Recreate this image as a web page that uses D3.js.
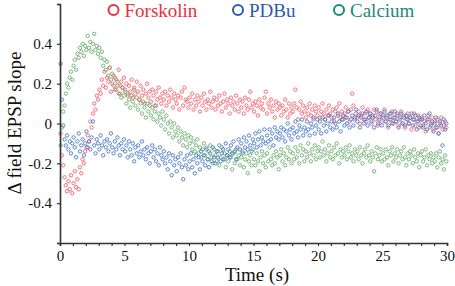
<!DOCTYPE html>
<html><head><meta charset="utf-8">
<script src="https://cdn.jsdelivr.net/npm/d3@7"></script>
</head>
<body style="margin:0;background:#fff">
<svg id="chart" width="455" height="286" font-family="Liberation Serif"></svg>
<script>
// ---- data ----
const seriesNames = ["Forskolin", "PDBu", "Calcium"];
const sampleStart = 0.05, sampleStep = 0.1; // s, acquisition clock
const xTicks = [0, 5, 10, 15, 20, 25, 30];
const yTicks = [-0.6, -0.4, -0.2, 0, 0.2, 0.4, 0.6];
const yTickLabels = ["", "-0.4", "-0.2", "0", "0.2", "0.4", ""];

const forskolin = [
-0.05,-0.16,-0.21,-0.27,-0.31,-0.34,-0.29,-0.33,-0.26,-0.35,
-0.30,-0.24,-0.32,-0.28,-0.33,-0.22,-0.25,-0.18,-0.20,-0.14,
-0.12,-0.06,-0.09,0.01,-0.02,0.05,0.10,0.07,0.14,0.12,
0.17,0.15,0.22,0.19,0.26,0.18,0.23,0.21,0.28,0.16,
0.20,0.24,0.17,0.22,0.19,0.27,0.15,0.21,0.18,0.23,
0.17,0.20,0.14,0.19,0.16,0.22,0.13,0.18,0.15,0.21,
0.16,0.12,0.19,0.14,0.17,0.10,0.15,0.20,0.13,0.16,
0.11,0.17,0.14,0.09,0.16,0.12,0.18,0.13,0.10,0.15,
0.12,0.16,0.09,0.14,0.11,0.17,0.13,0.08,0.15,0.12,
0.10,0.14,0.07,0.13,0.16,0.09,0.18,0.12,0.11,0.08,
0.13,0.10,0.15,0.07,0.12,0.09,0.14,0.11,0.06,0.13,
0.09,0.15,0.11,0.07,0.12,0.10,0.16,0.08,0.11,0.13,
0.07,0.12,0.09,0.14,0.10,0.06,0.11,0.15,0.08,0.12,
0.10,0.05,0.13,0.09,0.11,0.07,0.14,0.10,0.06,0.12,
0.08,0.11,0.05,0.13,0.09,0.07,0.12,0.16,0.08,0.10,
0.06,0.11,0.09,0.04,0.12,0.08,0.10,0.07,0.13,0.16,
0.05,0.10,0.08,0.12,0.06,0.09,0.03,0.11,0.07,0.10,
0.08,0.04,0.09,0.06,0.12,0.07,0.03,0.10,0.05,0.08,
0.06,0.10,0.17,0.08,0.02,0.07,0.11,0.05,0.09,0.06,
0.03,0.08,0.05,0.10,0.04,0.07,0.02,0.09,0.06,0.04,
0.08,0.03,0.06,0.10,0.05,0.02,0.07,0.04,0.09,0.05,
0.03,0.07,0.01,0.06,0.08,0.04,0.10,0.03,0.06,0.02,
0.05,0.08,0.03,0.06,0.01,0.07,0.15,0.09,0.02,0.05,
0.03,0.06,0.00,0.04,0.08,0.02,0.05,0.01,0.07,0.03,
0.05,0.00,0.04,0.07,0.02,0.06,-0.01,0.03,0.05,0.01,
0.04,0.07,0.01,0.03,-0.02,0.05,0.02,0.06,0.00,0.03,
0.01,0.05,-0.01,0.03,0.06,0.00,0.04,-0.02,0.02,0.05,
0.00,0.03,-0.03,0.02,0.05,-0.01,0.01,0.04,-0.02,0.02,
0.03,-0.01,0.01,-0.04,0.02,0.04,-0.02,0.00,0.03,-0.03,
0.01,-0.02,0.02,-0.05,0.00,0.03,-0.03,-0.01,0.01,-0.02
];

const pdbu = [
0.30,0.12,-0.01,-0.08,-0.11,-0.06,-0.13,-0.09,-0.15,-0.10,
-0.07,-0.12,-0.17,-0.09,-0.05,-0.14,-0.11,-0.08,-0.16,-0.10,
-0.04,-0.12,-0.09,-0.13,-0.07,0.01,-0.11,-0.15,-0.08,-0.10,
-0.13,-0.06,-0.11,-0.16,-0.09,-0.12,-0.08,-0.14,-0.10,-0.05,
-0.12,-0.15,-0.09,-0.13,-0.07,-0.11,-0.16,-0.10,-0.13,-0.08,
-0.14,-0.11,-0.17,-0.09,-0.13,-0.16,-0.10,-0.19,-0.12,-0.15,
-0.11,-0.17,-0.14,-0.09,-0.16,-0.13,-0.18,-0.12,-0.15,-0.20,
-0.14,-0.11,-0.17,-0.13,-0.19,-0.15,-0.21,-0.12,-0.16,-0.18,
-0.14,-0.20,-0.17,-0.23,-0.15,-0.19,-0.26,-0.16,-0.21,-0.18,
-0.24,-0.17,-0.20,-0.15,-0.22,-0.28,-0.18,-0.21,-0.16,-0.23,
-0.19,-0.15,-0.22,-0.18,-0.25,-0.16,-0.20,-0.17,-0.23,-0.14,
-0.19,-0.16,-0.21,-0.13,-0.18,-0.22,-0.15,-0.19,-0.12,-0.17,
-0.20,-0.14,-0.17,-0.11,-0.19,-0.15,-0.13,-0.18,-0.10,-0.16,
-0.13,-0.17,-0.11,-0.15,-0.09,-0.14,-0.18,-0.12,-0.08,-0.13,
-0.10,-0.15,-0.07,-0.12,-0.09,-0.13,-0.06,-0.11,-0.14,-0.08,
-0.10,-0.05,-0.12,-0.08,-0.04,-0.11,-0.07,-0.09,-0.03,-0.10,
-0.06,-0.09,-0.03,-0.08,-0.05,-0.11,-0.02,-0.07,-0.04,-0.08,
-0.05,-0.02,-0.07,-0.03,-0.09,-0.04,0.00,-0.06,-0.03,-0.08,
-0.02,-0.05,0.01,-0.04,-0.07,-0.01,-0.03,0.02,-0.06,-0.02,
-0.04,0.01,-0.03,-0.06,0.00,-0.02,0.03,-0.05,-0.01,0.02,
-0.03,0.01,-0.05,0.03,-0.01,0.02,-0.04,0.00,0.04,-0.02,
0.01,-0.03,0.03,0.00,-0.02,0.05,0.01,-0.04,0.02,0.04,
-0.01,0.03,0.00,0.06,-0.02,0.02,0.04,-0.01,0.03,0.07,
0.01,0.04,-0.02,0.03,0.05,0.00,0.02,0.06,-0.01,0.03,
0.05,0.01,0.03,-0.02,0.04,0.07,0.00,0.02,0.05,-0.01,
0.03,0.06,0.01,0.04,-0.01,0.02,0.05,0.00,0.03,0.06,
0.01,0.04,-0.02,0.02,0.05,0.00,0.03,-0.01,0.04,0.02,
0.00,0.03,0.05,-0.01,0.02,0.04,-0.03,0.01,0.03,-0.01,
0.02,-0.02,0.04,0.00,-0.03,0.02,0.05,-0.01,0.01,-0.04,
0.00,0.03,-0.02,-0.05,0.01,-0.01,-0.11,0.02,-0.03,0.00
];

const calcium = [
-0.11,-0.02,0.06,0.09,0.15,0.20,0.18,0.23,0.26,0.22,
0.29,0.32,0.27,0.35,0.33,0.38,0.36,0.40,0.34,0.39,
0.37,0.44,0.38,0.41,0.36,0.40,0.45,0.37,0.39,0.35,
0.38,0.33,0.36,0.29,0.32,0.27,0.31,0.24,0.28,0.22,
0.25,0.19,0.23,0.17,0.21,0.15,0.19,0.13,0.18,0.14,
0.16,0.10,0.15,0.12,0.08,0.14,0.11,0.17,0.09,0.13,
0.07,0.12,0.10,0.05,0.11,0.08,0.03,0.10,0.06,0.09,
0.04,0.08,0.02,0.06,0.09,0.01,0.05,0.03,-0.01,0.06,
0.02,-0.03,0.04,0.00,-0.05,0.01,-0.02,-0.07,0.00,-0.04,
-0.06,-0.02,-0.09,-0.04,-0.07,-0.11,-0.05,-0.08,-0.12,-0.06,
-0.10,-0.07,-0.13,-0.09,-0.14,-0.11,-0.08,-0.15,-0.12,-0.17,
-0.13,-0.10,-0.16,-0.12,-0.18,-0.14,-0.11,-0.17,-0.20,-0.13,
-0.16,-0.19,-0.14,-0.21,-0.17,-0.12,-0.18,-0.15,-0.22,-0.16,
-0.19,-0.14,-0.17,-0.23,-0.15,-0.20,-0.13,-0.18,-0.16,-0.21,
-0.17,-0.14,-0.22,-0.18,-0.15,-0.25,-0.19,-0.16,-0.21,-0.13,
-0.18,-0.21,-0.15,-0.19,-0.24,-0.17,-0.14,-0.20,-0.16,-0.22,
-0.15,-0.19,-0.12,-0.18,-0.21,-0.16,-0.20,-0.14,-0.17,-0.23,
-0.16,-0.13,-0.19,-0.15,-0.21,-0.17,-0.12,-0.18,-0.14,-0.20,
-0.15,-0.18,-0.12,-0.17,-0.14,-0.20,-0.11,-0.16,-0.13,-0.19,
-0.14,-0.17,-0.10,-0.15,-0.19,-0.13,-0.16,-0.11,-0.18,-0.14,
-0.12,-0.17,-0.14,-0.09,-0.16,-0.13,-0.19,-0.15,-0.11,-0.17,
-0.14,-0.18,-0.12,-0.16,-0.10,-0.15,-0.20,-0.13,-0.17,-0.14,
-0.16,-0.12,-0.18,-0.14,-0.11,-0.17,-0.15,-0.19,-0.13,-0.16,
-0.14,-0.18,-0.12,-0.16,-0.20,-0.15,-0.13,-0.17,-0.11,-0.16,
-0.19,-0.14,-0.17,-0.24,-0.15,-0.12,-0.18,-0.16,-0.13,-0.19,
-0.15,-0.18,-0.13,-0.17,-0.21,-0.14,-0.16,-0.12,-0.19,-0.15,
-0.17,-0.13,-0.20,-0.16,-0.14,-0.18,-0.12,-0.17,-0.21,-0.15,
-0.18,-0.14,-0.16,-0.20,-0.13,-0.17,-0.19,-0.15,-0.22,-0.16,
-0.14,-0.19,-0.17,-0.13,-0.21,-0.16,-0.18,-0.15,-0.20,-0.17,
-0.19,-0.15,-0.22,-0.17,-0.14,-0.20,-0.18,-0.23,-0.16,-0.19
];

const pointColors = {Forskolin: "#f0606e", PDBu: "#4677c6", Calcium: "#6aae6e"};
const legendColors = {Forskolin: "#ee2e3c", PDBu: "#2a5caf", Calcium: "#1b8a78"};
const FONT = "Liberation Serif";

// ---- chart ----
const svg = d3.select("#chart");
const x = d3.scaleLinear().domain([0, 30]).range([60, 447]);
const y = d3.scaleLinear().domain([-0.6, 0.6]).range([243, 4]);

const pointsLayer = svg.append("g").attr("class", "points");

// texts and axes first
const xAxis = d3.axisBottom(x).tickValues(d3.range(0, 31, 1)).tickSize(3)
  .tickFormat(d => xTicks.includes(d) ? d : "");
const gx = svg.append("g").attr("transform", "translate(0,243)").call(xAxis);
gx.attr("font-family", FONT).attr("font-size", 15);
gx.select(".domain").attr("stroke", "#333").attr("stroke-width", 1.6);
gx.selectAll(".tick line").attr("stroke", "#333").attr("stroke-width", 1.2);
gx.selectAll(".tick text").attr("font-family", FONT).attr("fill", "#111").attr("y", 7);

const yAxis = d3.axisLeft(y).tickValues(yTicks).tickSize(3)
  .tickFormat((d, i) => yTickLabels[i]);
const gy = svg.append("g").attr("transform", "translate(60,0)").call(yAxis);
gy.attr("font-family", FONT).attr("font-size", 15);
gy.select(".domain").attr("stroke", "#333").attr("stroke-width", 1.6);
gy.selectAll(".tick line").attr("stroke", "#333").attr("stroke-width", 1.2);
gy.selectAll(".tick text").attr("font-family", FONT).attr("fill", "#111").attr("x", -8);

svg.append("text").attr("x", 257).attr("y", 281).attr("text-anchor", "middle")
  .attr("font-family", FONT).attr("font-size", 19).attr("fill", "#111").text("Time (s)");
svg.append("text").attr("transform", "translate(21,123) rotate(-90)")
  .attr("font-family", FONT).attr("text-anchor", "middle").attr("font-size", 19).attr("fill", "#111")
  .text("Δ field EPSP slope");

const legendX = [113.5, 238, 339];
seriesNames.forEach((name, i) => {
  const g = svg.append("g").attr("transform", `translate(${legendX[i]},10)`);
  g.append("circle").attr("r", 5).attr("fill", "none")
    .attr("stroke", legendColors[name]).attr("stroke-width", 2);
  g.append("text").attr("x", 11).attr("y", 6.5).attr("font-size", 19)
    .attr("font-family", FONT).attr("fill", legendColors[name]).text(name);
});

// data points
const seriesData = {Forskolin: forskolin, PDBu: pdbu, Calcium: calcium};
const drawOrder = ["Calcium", "Forskolin", "PDBu"];
drawOrder.forEach(name => {
  pointsLayer.append("g").selectAll("circle")
    .data(seriesData[name])
    .join("circle")
    .attr("cx", (d, i) => x(sampleStart + i * sampleStep))
    .attr("cy", d => y(d))
    .attr("r", 1.7)
    .attr("fill", "none")
    .attr("stroke", pointColors[name])
    .attr("stroke-width", 0.9);
});
</script>
</body></html>
